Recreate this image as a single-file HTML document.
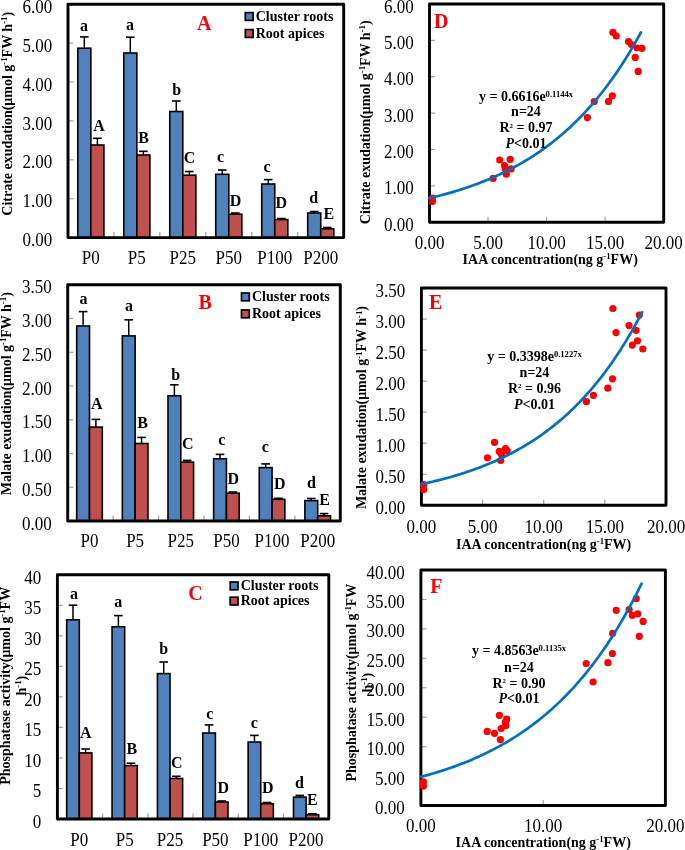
<!DOCTYPE html><html><head><meta charset="utf-8"><style>html,body{margin:0;padding:0;background:#fff;overflow:hidden;width:685px;height:850px;}svg{display:block;font-family:"Liberation Serif",serif;filter:blur(0.45px);}</style></head><body>
<svg width="685" height="850" viewBox="0 0 685 850">
<rect width="685" height="850" fill="#fff"/>
<line x1="68.00" y1="198.70" x2="73.50" y2="198.70" stroke="#A0A0A0" stroke-width="1.2"/>
<line x1="68.00" y1="159.80" x2="73.50" y2="159.80" stroke="#A0A0A0" stroke-width="1.2"/>
<line x1="68.00" y1="120.90" x2="73.50" y2="120.90" stroke="#A0A0A0" stroke-width="1.2"/>
<line x1="68.00" y1="82.00" x2="73.50" y2="82.00" stroke="#A0A0A0" stroke-width="1.2"/>
<line x1="68.00" y1="43.10" x2="73.50" y2="43.10" stroke="#A0A0A0" stroke-width="1.2"/>
<line x1="113.95" y1="237.60" x2="113.95" y2="232.10" stroke="#A0A0A0" stroke-width="1.2"/>
<line x1="159.90" y1="237.60" x2="159.90" y2="232.10" stroke="#A0A0A0" stroke-width="1.2"/>
<line x1="205.85" y1="237.60" x2="205.85" y2="232.10" stroke="#A0A0A0" stroke-width="1.2"/>
<line x1="251.80" y1="237.60" x2="251.80" y2="232.10" stroke="#A0A0A0" stroke-width="1.2"/>
<line x1="297.75" y1="237.60" x2="297.75" y2="232.10" stroke="#A0A0A0" stroke-width="1.2"/>
<text transform="translate(52.30,246.20) scale(1,1.08)" font-size="17" text-anchor="end" fill="#000">0.00</text>
<text transform="translate(52.30,207.30) scale(1,1.08)" font-size="17" text-anchor="end" fill="#000">1.00</text>
<text transform="translate(52.30,168.40) scale(1,1.08)" font-size="17" text-anchor="end" fill="#000">2.00</text>
<text transform="translate(52.30,129.50) scale(1,1.08)" font-size="17" text-anchor="end" fill="#000">3.00</text>
<text transform="translate(52.30,90.60) scale(1,1.08)" font-size="17" text-anchor="end" fill="#000">4.00</text>
<text transform="translate(52.30,51.70) scale(1,1.08)" font-size="17" text-anchor="end" fill="#000">5.00</text>
<text transform="translate(52.30,12.80) scale(1,1.08)" font-size="17" text-anchor="end" fill="#000">6.00</text>
<rect x="77.80" y="48.20" width="13.05" height="189.40" fill="#4F81BD" stroke="#000" stroke-width="1.6"/>
<rect x="90.85" y="145.00" width="13.05" height="92.60" fill="#C0504D" stroke="#000" stroke-width="1.6"/>
<line x1="84.32" y1="48.20" x2="84.32" y2="36.90" stroke="#000" stroke-width="1.5"/>
<line x1="80.02" y1="36.90" x2="88.62" y2="36.90" stroke="#000" stroke-width="1.6"/>
<line x1="97.38" y1="145.00" x2="97.38" y2="138.30" stroke="#000" stroke-width="1.5"/>
<line x1="93.08" y1="138.30" x2="101.67" y2="138.30" stroke="#000" stroke-width="1.6"/>
<text transform="translate(90.85,263.50) scale(1,1.08)" font-size="17" text-anchor="middle" fill="#000">P0</text>
<rect x="123.78" y="53.00" width="13.05" height="184.60" fill="#4F81BD" stroke="#000" stroke-width="1.6"/>
<rect x="136.83" y="155.00" width="13.05" height="82.60" fill="#C0504D" stroke="#000" stroke-width="1.6"/>
<line x1="130.30" y1="53.00" x2="130.30" y2="37.20" stroke="#000" stroke-width="1.5"/>
<line x1="126.00" y1="37.20" x2="134.60" y2="37.20" stroke="#000" stroke-width="1.6"/>
<line x1="143.35" y1="155.00" x2="143.35" y2="151.30" stroke="#000" stroke-width="1.5"/>
<line x1="139.05" y1="151.30" x2="147.66" y2="151.30" stroke="#000" stroke-width="1.6"/>
<text transform="translate(136.83,263.50) scale(1,1.08)" font-size="17" text-anchor="middle" fill="#000">P5</text>
<rect x="169.76" y="111.50" width="13.05" height="126.10" fill="#4F81BD" stroke="#000" stroke-width="1.6"/>
<rect x="182.81" y="175.20" width="13.05" height="62.40" fill="#C0504D" stroke="#000" stroke-width="1.6"/>
<line x1="176.28" y1="111.50" x2="176.28" y2="101.00" stroke="#000" stroke-width="1.5"/>
<line x1="171.98" y1="101.00" x2="180.59" y2="101.00" stroke="#000" stroke-width="1.6"/>
<line x1="189.34" y1="175.20" x2="189.34" y2="171.50" stroke="#000" stroke-width="1.5"/>
<line x1="185.03" y1="171.50" x2="193.64" y2="171.50" stroke="#000" stroke-width="1.6"/>
<text transform="translate(182.81,263.50) scale(1,1.08)" font-size="17" text-anchor="middle" fill="#000">P25</text>
<rect x="215.74" y="174.30" width="13.05" height="63.30" fill="#4F81BD" stroke="#000" stroke-width="1.6"/>
<rect x="228.79" y="214.20" width="13.05" height="23.40" fill="#C0504D" stroke="#000" stroke-width="1.6"/>
<line x1="222.26" y1="174.30" x2="222.26" y2="170.00" stroke="#000" stroke-width="1.5"/>
<line x1="217.96" y1="170.00" x2="226.56" y2="170.00" stroke="#000" stroke-width="1.6"/>
<line x1="235.31" y1="214.20" x2="235.31" y2="213.00" stroke="#000" stroke-width="1.5"/>
<line x1="231.01" y1="213.00" x2="239.62" y2="213.00" stroke="#000" stroke-width="1.6"/>
<text transform="translate(228.79,263.50) scale(1,1.08)" font-size="17" text-anchor="middle" fill="#000">P50</text>
<rect x="261.72" y="184.00" width="13.05" height="53.60" fill="#4F81BD" stroke="#000" stroke-width="1.6"/>
<rect x="274.77" y="219.60" width="13.05" height="18.00" fill="#C0504D" stroke="#000" stroke-width="1.6"/>
<line x1="268.25" y1="184.00" x2="268.25" y2="179.60" stroke="#000" stroke-width="1.5"/>
<line x1="263.94" y1="179.60" x2="272.55" y2="179.60" stroke="#000" stroke-width="1.6"/>
<line x1="281.29" y1="219.60" x2="281.29" y2="218.50" stroke="#000" stroke-width="1.5"/>
<line x1="276.99" y1="218.50" x2="285.59" y2="218.50" stroke="#000" stroke-width="1.6"/>
<text transform="translate(274.77,263.50) scale(1,1.08)" font-size="17" text-anchor="middle" fill="#000">P100</text>
<rect x="307.70" y="213.00" width="13.05" height="24.60" fill="#4F81BD" stroke="#000" stroke-width="1.6"/>
<rect x="320.75" y="228.80" width="13.05" height="8.80" fill="#C0504D" stroke="#000" stroke-width="1.6"/>
<line x1="314.23" y1="213.00" x2="314.23" y2="211.50" stroke="#000" stroke-width="1.5"/>
<line x1="309.93" y1="211.50" x2="318.53" y2="211.50" stroke="#000" stroke-width="1.6"/>
<line x1="327.27" y1="228.80" x2="327.27" y2="227.50" stroke="#000" stroke-width="1.5"/>
<line x1="322.97" y1="227.50" x2="331.57" y2="227.50" stroke="#000" stroke-width="1.6"/>
<text transform="translate(320.75,263.50) scale(1,1.08)" font-size="17" text-anchor="middle" fill="#000">P200</text>
<path d="M68.00,237.60 L68.00,4.20 L343.70,4.20 L343.70,237.60 Z" fill="none" stroke="#000" stroke-width="2.9" stroke-linejoin="round"/>
<rect x="245.30" y="12.60" width="7.8" height="7.8" fill="#4F81BD" stroke="#000" stroke-width="1.7"/>
<rect x="245.30" y="29.60" width="7.8" height="7.8" fill="#C0504D" stroke="#000" stroke-width="1.7"/>
<text x="255.70" y="20.50" font-size="14" text-anchor="start" font-weight="bold" fill="#000">Cluster roots</text>
<text x="255.70" y="37.50" font-size="14" text-anchor="start" font-weight="bold" fill="#000">Root apices</text>
<text x="197.00" y="29.60" font-size="20" text-anchor="start" font-weight="bold" fill="#FF0000">A</text>
<line x1="67.70" y1="487.26" x2="73.20" y2="487.26" stroke="#A0A0A0" stroke-width="1.2"/>
<line x1="67.70" y1="453.51" x2="73.20" y2="453.51" stroke="#A0A0A0" stroke-width="1.2"/>
<line x1="67.70" y1="419.77" x2="73.20" y2="419.77" stroke="#A0A0A0" stroke-width="1.2"/>
<line x1="67.70" y1="386.03" x2="73.20" y2="386.03" stroke="#A0A0A0" stroke-width="1.2"/>
<line x1="67.70" y1="352.29" x2="73.20" y2="352.29" stroke="#A0A0A0" stroke-width="1.2"/>
<line x1="67.70" y1="318.54" x2="73.20" y2="318.54" stroke="#A0A0A0" stroke-width="1.2"/>
<line x1="113.13" y1="521.00" x2="113.13" y2="515.50" stroke="#A0A0A0" stroke-width="1.2"/>
<line x1="158.57" y1="521.00" x2="158.57" y2="515.50" stroke="#A0A0A0" stroke-width="1.2"/>
<line x1="204.00" y1="521.00" x2="204.00" y2="515.50" stroke="#A0A0A0" stroke-width="1.2"/>
<line x1="249.43" y1="521.00" x2="249.43" y2="515.50" stroke="#A0A0A0" stroke-width="1.2"/>
<line x1="294.87" y1="521.00" x2="294.87" y2="515.50" stroke="#A0A0A0" stroke-width="1.2"/>
<text transform="translate(51.80,529.60) scale(1,1.08)" font-size="17" text-anchor="end" fill="#000">0.00</text>
<text transform="translate(51.80,495.86) scale(1,1.08)" font-size="17" text-anchor="end" fill="#000">0.50</text>
<text transform="translate(51.80,462.11) scale(1,1.08)" font-size="17" text-anchor="end" fill="#000">1.00</text>
<text transform="translate(51.80,428.37) scale(1,1.08)" font-size="17" text-anchor="end" fill="#000">1.50</text>
<text transform="translate(51.80,394.63) scale(1,1.08)" font-size="17" text-anchor="end" fill="#000">2.00</text>
<text transform="translate(51.80,360.89) scale(1,1.08)" font-size="17" text-anchor="end" fill="#000">2.50</text>
<text transform="translate(51.80,327.14) scale(1,1.08)" font-size="17" text-anchor="end" fill="#000">3.00</text>
<text transform="translate(51.80,293.40) scale(1,1.08)" font-size="17" text-anchor="end" fill="#000">3.50</text>
<rect x="76.70" y="326.00" width="12.80" height="195.00" fill="#4F81BD" stroke="#000" stroke-width="1.6"/>
<rect x="89.50" y="427.10" width="12.80" height="93.90" fill="#C0504D" stroke="#000" stroke-width="1.6"/>
<line x1="83.10" y1="326.00" x2="83.10" y2="311.60" stroke="#000" stroke-width="1.5"/>
<line x1="78.80" y1="311.60" x2="87.40" y2="311.60" stroke="#000" stroke-width="1.6"/>
<line x1="95.90" y1="427.10" x2="95.90" y2="419.40" stroke="#000" stroke-width="1.5"/>
<line x1="91.60" y1="419.40" x2="100.20" y2="419.40" stroke="#000" stroke-width="1.6"/>
<text transform="translate(89.50,547.30) scale(1,1.08)" font-size="17" text-anchor="middle" fill="#000">P0</text>
<rect x="122.34" y="335.90" width="12.80" height="185.10" fill="#4F81BD" stroke="#000" stroke-width="1.6"/>
<rect x="135.14" y="443.50" width="12.80" height="77.50" fill="#C0504D" stroke="#000" stroke-width="1.6"/>
<line x1="128.74" y1="335.90" x2="128.74" y2="319.80" stroke="#000" stroke-width="1.5"/>
<line x1="124.44" y1="319.80" x2="133.04" y2="319.80" stroke="#000" stroke-width="1.6"/>
<line x1="141.54" y1="443.50" x2="141.54" y2="437.40" stroke="#000" stroke-width="1.5"/>
<line x1="137.24" y1="437.40" x2="145.84" y2="437.40" stroke="#000" stroke-width="1.6"/>
<text transform="translate(135.14,547.30) scale(1,1.08)" font-size="17" text-anchor="middle" fill="#000">P5</text>
<rect x="167.98" y="395.80" width="12.80" height="125.20" fill="#4F81BD" stroke="#000" stroke-width="1.6"/>
<rect x="180.78" y="462.10" width="12.80" height="58.90" fill="#C0504D" stroke="#000" stroke-width="1.6"/>
<line x1="174.38" y1="395.80" x2="174.38" y2="384.80" stroke="#000" stroke-width="1.5"/>
<line x1="170.08" y1="384.80" x2="178.68" y2="384.80" stroke="#000" stroke-width="1.6"/>
<line x1="187.18" y1="462.10" x2="187.18" y2="460.40" stroke="#000" stroke-width="1.5"/>
<line x1="182.88" y1="460.40" x2="191.48" y2="460.40" stroke="#000" stroke-width="1.6"/>
<text transform="translate(180.78,547.30) scale(1,1.08)" font-size="17" text-anchor="middle" fill="#000">P25</text>
<rect x="213.62" y="458.80" width="12.80" height="62.20" fill="#4F81BD" stroke="#000" stroke-width="1.6"/>
<rect x="226.42" y="493.20" width="12.80" height="27.80" fill="#C0504D" stroke="#000" stroke-width="1.6"/>
<line x1="220.02" y1="458.80" x2="220.02" y2="454.40" stroke="#000" stroke-width="1.5"/>
<line x1="215.72" y1="454.40" x2="224.32" y2="454.40" stroke="#000" stroke-width="1.6"/>
<line x1="232.82" y1="493.20" x2="232.82" y2="492.00" stroke="#000" stroke-width="1.5"/>
<line x1="228.52" y1="492.00" x2="237.12" y2="492.00" stroke="#000" stroke-width="1.6"/>
<text transform="translate(226.42,547.30) scale(1,1.08)" font-size="17" text-anchor="middle" fill="#000">P50</text>
<rect x="259.26" y="467.60" width="12.80" height="53.40" fill="#4F81BD" stroke="#000" stroke-width="1.6"/>
<rect x="272.06" y="499.30" width="12.80" height="21.70" fill="#C0504D" stroke="#000" stroke-width="1.6"/>
<line x1="265.66" y1="467.60" x2="265.66" y2="463.90" stroke="#000" stroke-width="1.5"/>
<line x1="261.36" y1="463.90" x2="269.96" y2="463.90" stroke="#000" stroke-width="1.6"/>
<line x1="278.46" y1="499.30" x2="278.46" y2="498.30" stroke="#000" stroke-width="1.5"/>
<line x1="274.16" y1="498.30" x2="282.76" y2="498.30" stroke="#000" stroke-width="1.6"/>
<text transform="translate(272.06,547.30) scale(1,1.08)" font-size="17" text-anchor="middle" fill="#000">P100</text>
<rect x="304.90" y="500.60" width="12.80" height="20.40" fill="#4F81BD" stroke="#000" stroke-width="1.6"/>
<rect x="317.70" y="515.80" width="12.80" height="5.20" fill="#C0504D" stroke="#000" stroke-width="1.6"/>
<line x1="311.30" y1="500.60" x2="311.30" y2="498.50" stroke="#000" stroke-width="1.5"/>
<line x1="307.00" y1="498.50" x2="315.60" y2="498.50" stroke="#000" stroke-width="1.6"/>
<line x1="324.10" y1="515.80" x2="324.10" y2="513.60" stroke="#000" stroke-width="1.5"/>
<line x1="319.80" y1="513.60" x2="328.40" y2="513.60" stroke="#000" stroke-width="1.6"/>
<text transform="translate(317.70,547.30) scale(1,1.08)" font-size="17" text-anchor="middle" fill="#000">P200</text>
<path d="M67.70,521.00 L67.70,284.80 L340.30,284.80 L340.30,521.00 Z" fill="none" stroke="#000" stroke-width="2.9" stroke-linejoin="round"/>
<rect x="241.50" y="293.00" width="7.8" height="7.8" fill="#4F81BD" stroke="#000" stroke-width="1.7"/>
<rect x="241.50" y="310.00" width="7.8" height="7.8" fill="#C0504D" stroke="#000" stroke-width="1.7"/>
<text x="252.00" y="301.00" font-size="14" text-anchor="start" font-weight="bold" fill="#000">Cluster roots</text>
<text x="252.00" y="318.00" font-size="14" text-anchor="start" font-weight="bold" fill="#000">Root apices</text>
<text x="198.60" y="309.40" font-size="20" text-anchor="start" font-weight="bold" fill="#FF0000">B</text>
<line x1="57.40" y1="788.48" x2="62.90" y2="788.48" stroke="#A0A0A0" stroke-width="1.2"/>
<line x1="57.40" y1="757.95" x2="62.90" y2="757.95" stroke="#A0A0A0" stroke-width="1.2"/>
<line x1="57.40" y1="727.42" x2="62.90" y2="727.42" stroke="#A0A0A0" stroke-width="1.2"/>
<line x1="57.40" y1="696.90" x2="62.90" y2="696.90" stroke="#A0A0A0" stroke-width="1.2"/>
<line x1="57.40" y1="666.38" x2="62.90" y2="666.38" stroke="#A0A0A0" stroke-width="1.2"/>
<line x1="57.40" y1="635.85" x2="62.90" y2="635.85" stroke="#A0A0A0" stroke-width="1.2"/>
<line x1="57.40" y1="605.32" x2="62.90" y2="605.32" stroke="#A0A0A0" stroke-width="1.2"/>
<line x1="102.63" y1="819.00" x2="102.63" y2="813.50" stroke="#A0A0A0" stroke-width="1.2"/>
<line x1="147.87" y1="819.00" x2="147.87" y2="813.50" stroke="#A0A0A0" stroke-width="1.2"/>
<line x1="193.10" y1="819.00" x2="193.10" y2="813.50" stroke="#A0A0A0" stroke-width="1.2"/>
<line x1="238.33" y1="819.00" x2="238.33" y2="813.50" stroke="#A0A0A0" stroke-width="1.2"/>
<line x1="283.57" y1="819.00" x2="283.57" y2="813.50" stroke="#A0A0A0" stroke-width="1.2"/>
<text transform="translate(41.20,828.00) scale(1,1.08)" font-size="17" text-anchor="end" fill="#000">0</text>
<text transform="translate(41.20,797.48) scale(1,1.08)" font-size="17" text-anchor="end" fill="#000">5</text>
<text transform="translate(41.20,766.95) scale(1,1.08)" font-size="17" text-anchor="end" fill="#000">10</text>
<text transform="translate(41.20,736.42) scale(1,1.08)" font-size="17" text-anchor="end" fill="#000">15</text>
<text transform="translate(41.20,705.90) scale(1,1.08)" font-size="17" text-anchor="end" fill="#000">20</text>
<text transform="translate(41.20,675.38) scale(1,1.08)" font-size="17" text-anchor="end" fill="#000">25</text>
<text transform="translate(41.20,644.85) scale(1,1.08)" font-size="17" text-anchor="end" fill="#000">30</text>
<text transform="translate(41.20,614.32) scale(1,1.08)" font-size="17" text-anchor="end" fill="#000">35</text>
<text transform="translate(41.20,583.80) scale(1,1.08)" font-size="17" text-anchor="end" fill="#000">40</text>
<rect x="66.70" y="619.80" width="12.60" height="199.20" fill="#4F81BD" stroke="#000" stroke-width="1.6"/>
<rect x="79.30" y="752.90" width="12.60" height="66.10" fill="#C0504D" stroke="#000" stroke-width="1.6"/>
<line x1="73.00" y1="619.80" x2="73.00" y2="605.20" stroke="#000" stroke-width="1.5"/>
<line x1="68.70" y1="605.20" x2="77.30" y2="605.20" stroke="#000" stroke-width="1.6"/>
<line x1="85.60" y1="752.90" x2="85.60" y2="749.00" stroke="#000" stroke-width="1.5"/>
<line x1="81.30" y1="749.00" x2="89.90" y2="749.00" stroke="#000" stroke-width="1.6"/>
<text transform="translate(79.30,845.50) scale(1,1.08)" font-size="17" text-anchor="middle" fill="#000">P0</text>
<rect x="112.06" y="626.80" width="12.60" height="192.20" fill="#4F81BD" stroke="#000" stroke-width="1.6"/>
<rect x="124.66" y="765.60" width="12.60" height="53.40" fill="#C0504D" stroke="#000" stroke-width="1.6"/>
<line x1="118.36" y1="626.80" x2="118.36" y2="615.60" stroke="#000" stroke-width="1.5"/>
<line x1="114.06" y1="615.60" x2="122.66" y2="615.60" stroke="#000" stroke-width="1.6"/>
<line x1="130.96" y1="765.60" x2="130.96" y2="763.20" stroke="#000" stroke-width="1.5"/>
<line x1="126.66" y1="763.20" x2="135.26" y2="763.20" stroke="#000" stroke-width="1.6"/>
<text transform="translate(124.66,845.50) scale(1,1.08)" font-size="17" text-anchor="middle" fill="#000">P5</text>
<rect x="157.42" y="673.60" width="12.60" height="145.40" fill="#4F81BD" stroke="#000" stroke-width="1.6"/>
<rect x="170.02" y="778.50" width="12.60" height="40.50" fill="#C0504D" stroke="#000" stroke-width="1.6"/>
<line x1="163.72" y1="673.60" x2="163.72" y2="662.00" stroke="#000" stroke-width="1.5"/>
<line x1="159.42" y1="662.00" x2="168.02" y2="662.00" stroke="#000" stroke-width="1.6"/>
<line x1="176.32" y1="778.50" x2="176.32" y2="776.30" stroke="#000" stroke-width="1.5"/>
<line x1="172.02" y1="776.30" x2="180.62" y2="776.30" stroke="#000" stroke-width="1.6"/>
<text transform="translate(170.02,845.50) scale(1,1.08)" font-size="17" text-anchor="middle" fill="#000">P25</text>
<rect x="202.78" y="733.00" width="12.60" height="86.00" fill="#4F81BD" stroke="#000" stroke-width="1.6"/>
<rect x="215.38" y="802.00" width="12.60" height="17.00" fill="#C0504D" stroke="#000" stroke-width="1.6"/>
<line x1="209.08" y1="733.00" x2="209.08" y2="724.90" stroke="#000" stroke-width="1.5"/>
<line x1="204.78" y1="724.90" x2="213.38" y2="724.90" stroke="#000" stroke-width="1.6"/>
<line x1="221.68" y1="802.00" x2="221.68" y2="801.00" stroke="#000" stroke-width="1.5"/>
<line x1="217.38" y1="801.00" x2="225.98" y2="801.00" stroke="#000" stroke-width="1.6"/>
<text transform="translate(215.38,845.50) scale(1,1.08)" font-size="17" text-anchor="middle" fill="#000">P50</text>
<rect x="248.14" y="742.00" width="12.60" height="77.00" fill="#4F81BD" stroke="#000" stroke-width="1.6"/>
<rect x="260.74" y="803.70" width="12.60" height="15.30" fill="#C0504D" stroke="#000" stroke-width="1.6"/>
<line x1="254.44" y1="742.00" x2="254.44" y2="735.40" stroke="#000" stroke-width="1.5"/>
<line x1="250.14" y1="735.40" x2="258.74" y2="735.40" stroke="#000" stroke-width="1.6"/>
<line x1="267.04" y1="803.70" x2="267.04" y2="802.50" stroke="#000" stroke-width="1.5"/>
<line x1="262.74" y1="802.50" x2="271.34" y2="802.50" stroke="#000" stroke-width="1.6"/>
<text transform="translate(260.74,845.50) scale(1,1.08)" font-size="17" text-anchor="middle" fill="#000">P100</text>
<rect x="293.50" y="797.10" width="12.60" height="21.90" fill="#4F81BD" stroke="#000" stroke-width="1.6"/>
<rect x="306.10" y="814.70" width="12.60" height="4.30" fill="#C0504D" stroke="#000" stroke-width="1.6"/>
<line x1="299.80" y1="797.10" x2="299.80" y2="795.40" stroke="#000" stroke-width="1.5"/>
<line x1="295.50" y1="795.40" x2="304.10" y2="795.40" stroke="#000" stroke-width="1.6"/>
<line x1="312.40" y1="814.70" x2="312.40" y2="813.80" stroke="#000" stroke-width="1.5"/>
<line x1="308.10" y1="813.80" x2="316.70" y2="813.80" stroke="#000" stroke-width="1.6"/>
<text transform="translate(306.10,845.50) scale(1,1.08)" font-size="17" text-anchor="middle" fill="#000">P200</text>
<path d="M57.40,819.00 L57.40,574.80 L328.80,574.80 L328.80,819.00 Z" fill="none" stroke="#000" stroke-width="2.9" stroke-linejoin="round"/>
<rect x="230.20" y="582.00" width="7.8" height="7.8" fill="#4F81BD" stroke="#000" stroke-width="1.7"/>
<rect x="230.20" y="597.20" width="7.8" height="7.8" fill="#C0504D" stroke="#000" stroke-width="1.7"/>
<text x="240.70" y="590.20" font-size="14" text-anchor="start" font-weight="bold" fill="#000">Cluster roots</text>
<text x="240.70" y="605.40" font-size="14" text-anchor="start" font-weight="bold" fill="#000">Root apices</text>
<text x="188.20" y="600.40" font-size="20" text-anchor="start" font-weight="bold" fill="#FF0000">C</text>
<text x="84.10" y="30.90" font-size="16" text-anchor="middle" font-weight="bold" fill="#000">a</text>
<text x="99.10" y="130.50" font-size="16" text-anchor="middle" font-weight="bold" fill="#000">A</text>
<text x="130.10" y="29.90" font-size="16" text-anchor="middle" font-weight="bold" fill="#000">a</text>
<text x="143.70" y="142.50" font-size="16" text-anchor="middle" font-weight="bold" fill="#000">B</text>
<text x="176.70" y="94.90" font-size="16" text-anchor="middle" font-weight="bold" fill="#000">b</text>
<text x="189.60" y="162.50" font-size="16" text-anchor="middle" font-weight="bold" fill="#000">C</text>
<text x="220.60" y="162.10" font-size="16" text-anchor="middle" font-weight="bold" fill="#000">c</text>
<text x="235.60" y="205.90" font-size="16" text-anchor="middle" font-weight="bold" fill="#000">D</text>
<text x="267.00" y="171.50" font-size="16" text-anchor="middle" font-weight="bold" fill="#000">c</text>
<text x="281.40" y="207.90" font-size="16" text-anchor="middle" font-weight="bold" fill="#000">D</text>
<text x="313.60" y="202.70" font-size="16" text-anchor="middle" font-weight="bold" fill="#000">d</text>
<text x="328.90" y="219.30" font-size="16" text-anchor="middle" font-weight="bold" fill="#000">E</text>
<text x="83.40" y="304.10" font-size="16" text-anchor="middle" font-weight="bold" fill="#000">a</text>
<text x="96.90" y="408.90" font-size="16" text-anchor="middle" font-weight="bold" fill="#000">A</text>
<text x="128.90" y="311.10" font-size="16" text-anchor="middle" font-weight="bold" fill="#000">a</text>
<text x="142.70" y="427.50" font-size="16" text-anchor="middle" font-weight="bold" fill="#000">B</text>
<text x="175.80" y="379.50" font-size="16" text-anchor="middle" font-weight="bold" fill="#000">b</text>
<text x="187.80" y="449.10" font-size="16" text-anchor="middle" font-weight="bold" fill="#000">C</text>
<text x="221.70" y="444.90" font-size="16" text-anchor="middle" font-weight="bold" fill="#000">c</text>
<text x="233.30" y="484.10" font-size="16" text-anchor="middle" font-weight="bold" fill="#000">D</text>
<text x="265.20" y="452.30" font-size="16" text-anchor="middle" font-weight="bold" fill="#000">c</text>
<text x="279.90" y="488.50" font-size="16" text-anchor="middle" font-weight="bold" fill="#000">D</text>
<text x="311.50" y="487.90" font-size="16" text-anchor="middle" font-weight="bold" fill="#000">d</text>
<text x="324.70" y="505.10" font-size="16" text-anchor="middle" font-weight="bold" fill="#000">E</text>
<text x="73.90" y="599.30" font-size="16" text-anchor="middle" font-weight="bold" fill="#000">a</text>
<text x="85.90" y="737.70" font-size="16" text-anchor="middle" font-weight="bold" fill="#000">A</text>
<text x="118.30" y="606.50" font-size="16" text-anchor="middle" font-weight="bold" fill="#000">a</text>
<text x="131.90" y="754.10" font-size="16" text-anchor="middle" font-weight="bold" fill="#000">B</text>
<text x="163.80" y="653.70" font-size="16" text-anchor="middle" font-weight="bold" fill="#000">b</text>
<text x="176.80" y="767.70" font-size="16" text-anchor="middle" font-weight="bold" fill="#000">C</text>
<text x="209.80" y="718.90" font-size="16" text-anchor="middle" font-weight="bold" fill="#000">c</text>
<text x="223.40" y="792.50" font-size="16" text-anchor="middle" font-weight="bold" fill="#000">D</text>
<text x="254.20" y="728.30" font-size="16" text-anchor="middle" font-weight="bold" fill="#000">c</text>
<text x="267.90" y="793.10" font-size="16" text-anchor="middle" font-weight="bold" fill="#000">D</text>
<text x="299.50" y="787.50" font-size="16" text-anchor="middle" font-weight="bold" fill="#000">d</text>
<text x="312.30" y="805.30" font-size="16" text-anchor="middle" font-weight="bold" fill="#000">E</text>
<line x1="429.50" y1="185.83" x2="435.00" y2="185.83" stroke="#A0A0A0" stroke-width="1.2"/>
<line x1="429.50" y1="149.47" x2="435.00" y2="149.47" stroke="#A0A0A0" stroke-width="1.2"/>
<line x1="429.50" y1="113.10" x2="435.00" y2="113.10" stroke="#A0A0A0" stroke-width="1.2"/>
<line x1="429.50" y1="76.73" x2="435.00" y2="76.73" stroke="#A0A0A0" stroke-width="1.2"/>
<line x1="429.50" y1="40.37" x2="435.00" y2="40.37" stroke="#A0A0A0" stroke-width="1.2"/>
<line x1="488.05" y1="222.20" x2="488.05" y2="216.70" stroke="#A0A0A0" stroke-width="1.2"/>
<line x1="546.60" y1="222.20" x2="546.60" y2="216.70" stroke="#A0A0A0" stroke-width="1.2"/>
<line x1="605.15" y1="222.20" x2="605.15" y2="216.70" stroke="#A0A0A0" stroke-width="1.2"/>
<text transform="translate(413.80,230.80) scale(1,1.08)" font-size="17" text-anchor="end" fill="#000">0.00</text>
<text transform="translate(413.80,194.43) scale(1,1.08)" font-size="17" text-anchor="end" fill="#000">1.00</text>
<text transform="translate(413.80,158.07) scale(1,1.08)" font-size="17" text-anchor="end" fill="#000">2.00</text>
<text transform="translate(413.80,121.70) scale(1,1.08)" font-size="17" text-anchor="end" fill="#000">3.00</text>
<text transform="translate(413.80,85.33) scale(1,1.08)" font-size="17" text-anchor="end" fill="#000">4.00</text>
<text transform="translate(413.80,48.97) scale(1,1.08)" font-size="17" text-anchor="end" fill="#000">5.00</text>
<text transform="translate(413.80,12.60) scale(1,1.08)" font-size="17" text-anchor="end" fill="#000">6.00</text>
<text transform="translate(429.50,248.80) scale(1,1.08)" font-size="17" text-anchor="middle" fill="#000">0.00</text>
<text transform="translate(488.05,248.80) scale(1,1.08)" font-size="17" text-anchor="middle" fill="#000">5.00</text>
<text transform="translate(546.60,248.80) scale(1,1.08)" font-size="17" text-anchor="middle" fill="#000">10.00</text>
<text transform="translate(605.15,248.80) scale(1,1.08)" font-size="17" text-anchor="middle" fill="#000">15.00</text>
<text transform="translate(663.70,248.80) scale(1,1.08)" font-size="17" text-anchor="middle" fill="#000">20.00</text>
<path d="M429.50,222.20 L429.50,4.00 L663.70,4.00 L663.70,222.20 Z" fill="none" stroke="#000" stroke-width="2.9" stroke-linejoin="round"/>
<circle cx="432.40" cy="198.20" r="3.6" fill="#FF0000"/>
<circle cx="432.40" cy="201.50" r="3.6" fill="#FF0000"/>
<circle cx="493.10" cy="178.40" r="3.6" fill="#FF0000"/>
<circle cx="499.70" cy="160.00" r="3.6" fill="#FF0000"/>
<circle cx="510.20" cy="159.40" r="3.6" fill="#FF0000"/>
<circle cx="504.50" cy="165.60" r="3.6" fill="#FF0000"/>
<circle cx="511.10" cy="168.90" r="3.6" fill="#FF0000"/>
<circle cx="506.30" cy="174.20" r="3.6" fill="#FF0000"/>
<circle cx="505.40" cy="168.90" r="3.6" fill="#FF0000"/>
<circle cx="587.40" cy="117.60" r="3.6" fill="#FF0000"/>
<circle cx="594.20" cy="101.60" r="3.6" fill="#FF0000"/>
<circle cx="608.50" cy="101.40" r="3.6" fill="#FF0000"/>
<circle cx="612.30" cy="95.80" r="3.6" fill="#FF0000"/>
<circle cx="612.90" cy="32.30" r="3.6" fill="#FF0000"/>
<circle cx="616.20" cy="36.00" r="3.6" fill="#FF0000"/>
<circle cx="628.50" cy="41.60" r="3.6" fill="#FF0000"/>
<circle cx="631.40" cy="44.50" r="3.6" fill="#FF0000"/>
<circle cx="637.00" cy="48.00" r="3.6" fill="#FF0000"/>
<circle cx="641.90" cy="48.30" r="3.6" fill="#FF0000"/>
<circle cx="635.20" cy="57.40" r="3.6" fill="#FF0000"/>
<circle cx="638.20" cy="71.40" r="3.6" fill="#FF0000"/>
<polyline points="429.50,198.14 431.26,197.72 433.02,197.30 434.78,196.87 436.55,196.43 438.31,195.98 440.07,195.52 441.83,195.06 443.59,194.59 445.35,194.11 447.11,193.62 448.88,193.13 450.64,192.62 452.40,192.11 454.16,191.59 455.92,191.05 457.68,190.51 459.44,189.96 461.20,189.40 462.97,188.84 464.73,188.26 466.49,187.67 468.25,187.07 470.01,186.46 471.77,185.84 473.53,185.21 475.30,184.56 477.06,183.91 478.82,183.25 480.58,182.57 482.34,181.88 484.10,181.18 485.86,180.47 487.63,179.75 489.39,179.01 491.15,178.26 492.91,177.50 494.67,176.72 496.43,175.93 498.19,175.13 499.96,174.31 501.72,173.48 503.48,172.64 505.24,171.77 507.00,170.90 508.76,170.01 510.52,169.10 512.28,168.18 514.05,167.24 515.81,166.29 517.57,165.32 519.33,164.33 521.09,163.33 522.85,162.31 524.61,161.27 526.38,160.21 528.14,159.13 529.90,158.04 531.66,156.93 533.42,155.79 535.18,154.64 536.94,153.47 538.71,152.27 540.47,151.06 542.23,149.83 543.99,148.57 545.75,147.29 547.51,145.99 549.27,144.67 551.04,143.32 552.80,141.95 554.56,140.56 556.32,139.14 558.08,137.70 559.84,136.24 561.60,134.74 563.36,133.23 565.13,131.68 566.89,130.11 568.65,128.51 570.41,126.89 572.17,125.23 573.93,123.55 575.69,121.84 577.46,120.09 579.22,118.32 580.98,116.52 582.74,114.69 584.50,112.82 586.26,110.92 588.02,108.99 589.79,107.02 591.55,105.03 593.31,102.99 595.07,100.92 596.83,98.82 598.59,96.68 600.35,94.50 602.12,92.28 603.88,90.03 605.64,87.73 607.40,85.40 609.16,83.02 610.92,80.61 612.68,78.15 614.44,75.65 616.21,73.11 617.97,70.52 619.73,67.89 621.49,65.21 623.25,62.48 625.01,59.71 626.77,56.89 628.54,54.02 630.30,51.10 632.06,48.13 633.82,45.11 635.58,42.04 637.34,38.91 639.10,35.73 640.87,32.49" fill="none" stroke="#0070C0" stroke-width="2.7" stroke-linecap="round" stroke-linejoin="round"/>
<text x="526.00" y="101.00" font-size="14" font-weight="bold" text-anchor="middle">y = 0.6616e<tspan font-size="8.6" dy="-4.4">0.1144x</tspan></text>
<text x="526.00" y="116.20" font-size="14" text-anchor="middle" font-weight="bold" fill="#000">n=24</text>
<text x="526.00" y="132.30" font-size="14" font-weight="bold" text-anchor="middle">R<tspan font-size="6.8" dy="-4.6">2</tspan><tspan dy="4.6"> = 0.97</tspan></text>
<text x="526.00" y="148.40" font-size="14" font-weight="bold" text-anchor="middle"><tspan font-style="italic">P</tspan>&lt;0.01</text>
<text x="434.00" y="27.80" font-size="20" text-anchor="start" font-weight="bold" fill="#FF0000">D</text>
<text x="550.20" y="264.30" font-size="14" font-weight="bold" text-anchor="middle">IAA concentration(ng g<tspan font-size="8.68" dy="-5">-1</tspan><tspan dy="5">FW)</tspan></text>
<line x1="421.40" y1="474.26" x2="426.90" y2="474.26" stroke="#A0A0A0" stroke-width="1.2"/>
<line x1="421.40" y1="443.21" x2="426.90" y2="443.21" stroke="#A0A0A0" stroke-width="1.2"/>
<line x1="421.40" y1="412.17" x2="426.90" y2="412.17" stroke="#A0A0A0" stroke-width="1.2"/>
<line x1="421.40" y1="381.13" x2="426.90" y2="381.13" stroke="#A0A0A0" stroke-width="1.2"/>
<line x1="421.40" y1="350.09" x2="426.90" y2="350.09" stroke="#A0A0A0" stroke-width="1.2"/>
<line x1="421.40" y1="319.04" x2="426.90" y2="319.04" stroke="#A0A0A0" stroke-width="1.2"/>
<line x1="482.55" y1="505.30" x2="482.55" y2="499.80" stroke="#A0A0A0" stroke-width="1.2"/>
<line x1="543.70" y1="505.30" x2="543.70" y2="499.80" stroke="#A0A0A0" stroke-width="1.2"/>
<line x1="604.85" y1="505.30" x2="604.85" y2="499.80" stroke="#A0A0A0" stroke-width="1.2"/>
<text transform="translate(405.30,513.90) scale(1,1.08)" font-size="17" text-anchor="end" fill="#000">0.00</text>
<text transform="translate(405.30,482.86) scale(1,1.08)" font-size="17" text-anchor="end" fill="#000">0.50</text>
<text transform="translate(405.30,451.81) scale(1,1.08)" font-size="17" text-anchor="end" fill="#000">1.00</text>
<text transform="translate(405.30,420.77) scale(1,1.08)" font-size="17" text-anchor="end" fill="#000">1.50</text>
<text transform="translate(405.30,389.73) scale(1,1.08)" font-size="17" text-anchor="end" fill="#000">2.00</text>
<text transform="translate(405.30,358.69) scale(1,1.08)" font-size="17" text-anchor="end" fill="#000">2.50</text>
<text transform="translate(405.30,327.64) scale(1,1.08)" font-size="17" text-anchor="end" fill="#000">3.00</text>
<text transform="translate(405.30,296.60) scale(1,1.08)" font-size="17" text-anchor="end" fill="#000">3.50</text>
<text transform="translate(421.40,532.60) scale(1,1.08)" font-size="17" text-anchor="middle" fill="#000">0.00</text>
<text transform="translate(482.55,532.60) scale(1,1.08)" font-size="17" text-anchor="middle" fill="#000">5.00</text>
<text transform="translate(543.70,532.60) scale(1,1.08)" font-size="17" text-anchor="middle" fill="#000">10.00</text>
<text transform="translate(604.85,532.60) scale(1,1.08)" font-size="17" text-anchor="middle" fill="#000">15.00</text>
<text transform="translate(666.00,532.60) scale(1,1.08)" font-size="17" text-anchor="middle" fill="#000">20.00</text>
<path d="M421.40,505.30 L421.40,288.00 L666.00,288.00 L666.00,505.30 Z" fill="none" stroke="#000" stroke-width="2.9" stroke-linejoin="round"/>
<circle cx="423.70" cy="484.70" r="3.6" fill="#FF0000"/>
<circle cx="423.70" cy="489.60" r="3.6" fill="#FF0000"/>
<circle cx="487.50" cy="457.80" r="3.6" fill="#FF0000"/>
<circle cx="494.50" cy="442.30" r="3.6" fill="#FF0000"/>
<circle cx="499.30" cy="451.40" r="3.6" fill="#FF0000"/>
<circle cx="505.50" cy="448.50" r="3.6" fill="#FF0000"/>
<circle cx="507.20" cy="450.80" r="3.6" fill="#FF0000"/>
<circle cx="500.70" cy="460.50" r="3.6" fill="#FF0000"/>
<circle cx="501.50" cy="454.60" r="3.6" fill="#FF0000"/>
<circle cx="586.40" cy="401.70" r="3.6" fill="#FF0000"/>
<circle cx="593.40" cy="395.30" r="3.6" fill="#FF0000"/>
<circle cx="607.80" cy="388.20" r="3.6" fill="#FF0000"/>
<circle cx="612.50" cy="378.80" r="3.6" fill="#FF0000"/>
<circle cx="612.90" cy="308.50" r="3.6" fill="#FF0000"/>
<circle cx="639.30" cy="315.10" r="3.6" fill="#FF0000"/>
<circle cx="629.00" cy="325.60" r="3.6" fill="#FF0000"/>
<circle cx="636.10" cy="330.30" r="3.6" fill="#FF0000"/>
<circle cx="616.00" cy="332.60" r="3.6" fill="#FF0000"/>
<circle cx="637.50" cy="340.80" r="3.6" fill="#FF0000"/>
<circle cx="632.30" cy="345.10" r="3.6" fill="#FF0000"/>
<circle cx="642.80" cy="349.00" r="3.6" fill="#FF0000"/>
<polyline points="421.40,484.20 423.24,483.81 425.08,483.41 426.92,483.00 428.76,482.59 430.60,482.16 432.44,481.73 434.28,481.29 436.12,480.85 437.96,480.39 439.80,479.93 441.64,479.45 443.48,478.97 445.31,478.48 447.15,477.98 448.99,477.47 450.83,476.96 452.67,476.43 454.51,475.89 456.35,475.34 458.19,474.78 460.03,474.22 461.87,473.64 463.71,473.05 465.55,472.45 467.39,471.83 469.23,471.21 471.07,470.58 472.91,469.93 474.75,469.27 476.59,468.60 478.43,467.92 480.27,467.22 482.11,466.51 483.95,465.79 485.79,465.05 487.63,464.30 489.47,463.54 491.30,462.76 493.14,461.97 494.98,461.16 496.82,460.34 498.66,459.50 500.50,458.65 502.34,457.78 504.18,456.89 506.02,455.99 507.86,455.07 509.70,454.14 511.54,453.18 513.38,452.21 515.22,451.22 517.06,450.22 518.90,449.19 520.74,448.15 522.58,447.08 524.42,446.00 526.26,444.89 528.10,443.77 529.94,442.62 531.78,441.45 533.62,440.26 535.45,439.05 537.29,437.82 539.13,436.56 540.97,435.28 542.81,433.98 544.65,432.65 546.49,431.29 548.33,429.92 550.17,428.51 552.01,427.08 553.85,425.62 555.69,424.14 557.53,422.63 559.37,421.09 561.21,419.52 563.05,417.92 564.89,416.29 566.73,414.64 568.57,412.95 570.41,411.23 572.25,409.48 574.09,407.69 575.93,405.87 577.77,404.02 579.61,402.13 581.44,400.21 583.28,398.25 585.12,396.26 586.96,394.23 588.80,392.16 590.64,390.05 592.48,387.91 594.32,385.72 596.16,383.49 598.00,381.22 599.84,378.91 601.68,376.56 603.52,374.16 605.36,371.72 607.20,369.23 609.04,366.69 610.88,364.11 612.72,361.48 614.56,358.80 616.40,356.07 618.24,353.29 620.08,350.46 621.92,347.58 623.76,344.64 625.60,341.65 627.43,338.60 629.27,335.49 631.11,332.33 632.95,329.11 634.79,325.83 636.63,322.48 638.47,319.08 640.31,315.61 642.15,312.08" fill="none" stroke="#0070C0" stroke-width="2.7" stroke-linecap="round" stroke-linejoin="round"/>
<text x="534.50" y="361.00" font-size="14" font-weight="bold" text-anchor="middle">y = 0.3398e<tspan font-size="8.6" dy="-4.4">0.1227x</tspan></text>
<text x="534.50" y="376.80" font-size="14" text-anchor="middle" font-weight="bold" fill="#000">n=24</text>
<text x="534.50" y="392.90" font-size="14" font-weight="bold" text-anchor="middle">R<tspan font-size="6.8" dy="-4.6">2</tspan><tspan dy="4.6"> = 0.96</tspan></text>
<text x="534.50" y="408.70" font-size="14" font-weight="bold" text-anchor="middle"><tspan font-style="italic">P</tspan>&lt;0.01</text>
<text x="429.00" y="308.60" font-size="20" text-anchor="start" font-weight="bold" fill="#FF0000">E</text>
<text x="543.60" y="548.90" font-size="14" font-weight="bold" text-anchor="middle">IAA concentration(ng g<tspan font-size="8.68" dy="-5">-1</tspan><tspan dy="5">FW)</tspan></text>
<line x1="420.90" y1="776.06" x2="426.40" y2="776.06" stroke="#A0A0A0" stroke-width="1.2"/>
<line x1="420.90" y1="746.62" x2="426.40" y2="746.62" stroke="#A0A0A0" stroke-width="1.2"/>
<line x1="420.90" y1="717.19" x2="426.40" y2="717.19" stroke="#A0A0A0" stroke-width="1.2"/>
<line x1="420.90" y1="687.75" x2="426.40" y2="687.75" stroke="#A0A0A0" stroke-width="1.2"/>
<line x1="420.90" y1="658.31" x2="426.40" y2="658.31" stroke="#A0A0A0" stroke-width="1.2"/>
<line x1="420.90" y1="628.88" x2="426.40" y2="628.88" stroke="#A0A0A0" stroke-width="1.2"/>
<line x1="420.90" y1="599.44" x2="426.40" y2="599.44" stroke="#A0A0A0" stroke-width="1.2"/>
<line x1="543.15" y1="805.50" x2="543.15" y2="800.00" stroke="#A0A0A0" stroke-width="1.2"/>
<text transform="translate(404.80,814.10) scale(1,1.08)" font-size="17" text-anchor="end" fill="#000">0.00</text>
<text transform="translate(404.80,784.66) scale(1,1.08)" font-size="17" text-anchor="end" fill="#000">5.00</text>
<text transform="translate(404.80,755.23) scale(1,1.08)" font-size="17" text-anchor="end" fill="#000">10.00</text>
<text transform="translate(404.80,725.79) scale(1,1.08)" font-size="17" text-anchor="end" fill="#000">15.00</text>
<text transform="translate(404.80,696.35) scale(1,1.08)" font-size="17" text-anchor="end" fill="#000">20.00</text>
<text transform="translate(404.80,666.91) scale(1,1.08)" font-size="17" text-anchor="end" fill="#000">25.00</text>
<text transform="translate(404.80,637.48) scale(1,1.08)" font-size="17" text-anchor="end" fill="#000">30.00</text>
<text transform="translate(404.80,608.04) scale(1,1.08)" font-size="17" text-anchor="end" fill="#000">35.00</text>
<text transform="translate(404.80,578.60) scale(1,1.08)" font-size="17" text-anchor="end" fill="#000">40.00</text>
<text transform="translate(420.90,832.40) scale(1,1.08)" font-size="17" text-anchor="middle" fill="#000">0.00</text>
<text transform="translate(543.15,832.40) scale(1,1.08)" font-size="17" text-anchor="middle" fill="#000">10.00</text>
<text transform="translate(665.40,832.40) scale(1,1.08)" font-size="17" text-anchor="middle" fill="#000">20.00</text>
<path d="M420.90,805.50 L420.90,570.00 L665.40,570.00 L665.40,805.50 Z" fill="none" stroke="#000" stroke-width="2.9" stroke-linejoin="round"/>
<circle cx="423.40" cy="781.90" r="3.6" fill="#FF0000"/>
<circle cx="423.40" cy="786.10" r="3.6" fill="#FF0000"/>
<circle cx="499.40" cy="715.30" r="3.6" fill="#FF0000"/>
<circle cx="506.70" cy="719.10" r="3.6" fill="#FF0000"/>
<circle cx="505.40" cy="721.90" r="3.6" fill="#FF0000"/>
<circle cx="505.80" cy="725.40" r="3.6" fill="#FF0000"/>
<circle cx="501.20" cy="728.50" r="3.6" fill="#FF0000"/>
<circle cx="487.20" cy="731.40" r="3.6" fill="#FF0000"/>
<circle cx="494.50" cy="733.30" r="3.6" fill="#FF0000"/>
<circle cx="500.40" cy="739.60" r="3.6" fill="#FF0000"/>
<circle cx="586.20" cy="663.50" r="3.6" fill="#FF0000"/>
<circle cx="593.10" cy="682.00" r="3.6" fill="#FF0000"/>
<circle cx="607.90" cy="662.70" r="3.6" fill="#FF0000"/>
<circle cx="612.40" cy="653.60" r="3.6" fill="#FF0000"/>
<circle cx="636.30" cy="598.60" r="3.6" fill="#FF0000"/>
<circle cx="616.20" cy="610.30" r="3.6" fill="#FF0000"/>
<circle cx="629.10" cy="609.50" r="3.6" fill="#FF0000"/>
<circle cx="632.30" cy="615.30" r="3.6" fill="#FF0000"/>
<circle cx="637.80" cy="613.80" r="3.6" fill="#FF0000"/>
<circle cx="643.10" cy="621.40" r="3.6" fill="#FF0000"/>
<circle cx="612.70" cy="633.30" r="3.6" fill="#FF0000"/>
<circle cx="639.30" cy="636.30" r="3.6" fill="#FF0000"/>
<polyline points="420.90,776.91 422.74,776.42 424.58,775.92 426.42,775.41 428.26,774.89 430.09,774.36 431.93,773.82 433.77,773.28 435.61,772.72 437.45,772.16 439.29,771.59 441.13,771.00 442.97,770.41 444.80,769.80 446.64,769.19 448.48,768.56 450.32,767.93 452.16,767.28 454.00,766.62 455.84,765.95 457.68,765.27 459.52,764.58 461.35,763.88 463.19,763.16 465.03,762.43 466.87,761.69 468.71,760.93 470.55,760.17 472.39,759.39 474.23,758.59 476.07,757.78 477.90,756.96 479.74,756.13 481.58,755.28 483.42,754.41 485.26,753.53 487.10,752.64 488.94,751.73 490.78,750.80 492.61,749.86 494.45,748.90 496.29,747.93 498.13,746.93 499.97,745.93 501.81,744.90 503.65,743.86 505.49,742.80 507.33,741.72 509.16,740.62 511.00,739.50 512.84,738.36 514.68,737.21 516.52,736.03 518.36,734.84 520.20,733.62 522.04,732.38 523.88,731.12 525.71,729.84 527.55,728.54 529.39,727.21 531.23,725.87 533.07,724.49 534.91,723.10 536.75,721.68 538.59,720.24 540.42,718.77 542.26,717.28 544.10,715.76 545.94,714.21 547.78,712.64 549.62,711.04 551.46,709.41 553.30,707.76 555.14,706.08 556.97,704.36 558.81,702.62 560.65,700.85 562.49,699.05 564.33,697.22 566.17,695.35 568.01,693.46 569.85,691.53 571.69,689.56 573.52,687.57 575.36,685.54 577.20,683.47 579.04,681.37 580.88,679.23 582.72,677.06 584.56,674.85 586.40,672.60 588.23,670.31 590.07,667.98 591.91,665.61 593.75,663.20 595.59,660.75 597.43,658.26 599.27,655.73 601.11,653.15 602.95,650.52 604.78,647.86 606.62,645.14 608.46,642.38 610.30,639.57 612.14,636.71 613.98,633.81 615.82,630.85 617.66,627.84 619.50,624.79 621.33,621.67 623.17,618.51 625.01,615.29 626.85,612.01 628.69,608.68 630.53,605.29 632.37,601.85 634.21,598.34 636.04,594.77 637.88,591.14 639.72,587.45 641.56,583.70" fill="none" stroke="#0070C0" stroke-width="2.7" stroke-linecap="round" stroke-linejoin="round"/>
<text x="519.00" y="655.40" font-size="14" font-weight="bold" text-anchor="middle">y = 4.8563e<tspan font-size="8.6" dy="-4.4">0.1135x</tspan></text>
<text x="519.00" y="671.50" font-size="14" text-anchor="middle" font-weight="bold" fill="#000">n=24</text>
<text x="519.00" y="687.80" font-size="14" font-weight="bold" text-anchor="middle">R<tspan font-size="6.8" dy="-4.6">2</tspan><tspan dy="4.6"> = 0.90</tspan></text>
<text x="519.00" y="703.00" font-size="14" font-weight="bold" text-anchor="middle"><tspan font-style="italic">P</tspan>&lt;0.01</text>
<text x="430.20" y="593.00" font-size="20" text-anchor="start" font-weight="bold" fill="#FF0000">F</text>
<text x="543.20" y="846.80" font-size="14" font-weight="bold" text-anchor="middle">IAA concentration(ng g<tspan font-size="8.68" dy="-5">-1</tspan><tspan dy="5">FW)</tspan></text>
<text x="0" y="0" font-size="14.0" font-weight="bold" text-anchor="middle" transform="translate(11.80,113.80) rotate(-90)">Citrate exudation(μmol g<tspan font-size="8.68" dy="-4.62">-1</tspan><tspan dy="4.62">FW h</tspan><tspan font-size="8.68" dy="-4.62">-1</tspan><tspan dy="4.62">)</tspan></text>
<text x="0" y="0" font-size="14.0" font-weight="bold" text-anchor="middle" transform="translate(10.60,393.70) rotate(-90)">Malate exudation(μmol g<tspan font-size="8.68" dy="-4.62">-1</tspan><tspan dy="4.62">FW h</tspan><tspan font-size="8.68" dy="-4.62">-1</tspan><tspan dy="4.62">)</tspan></text>
<text x="0" y="0" font-size="14.0" font-weight="bold" text-anchor="middle" transform="translate(9.90,685.80) rotate(-90)">Phosphatase activity(μmol g<tspan font-size="8.68" dy="-4.62">-1</tspan><tspan dy="4.62">FW</tspan></text>
<text x="0" y="0" font-size="14.0" font-weight="bold" text-anchor="middle" transform="translate(25.80,685.70) rotate(-90)">h<tspan font-size="8.68" dy="-4.62">-1</tspan><tspan dy="4.62">)</tspan></text>
<text x="0" y="0" font-size="14.0" font-weight="bold" text-anchor="middle" transform="translate(369.50,122.30) rotate(-90)">Citrate exudation(μmol g<tspan font-size="8.68" dy="-4.62">-1</tspan><tspan dy="4.62">FW h</tspan><tspan font-size="8.68" dy="-4.62">-1</tspan><tspan dy="4.62">)</tspan></text>
<text x="0" y="0" font-size="14.0" font-weight="bold" text-anchor="middle" transform="translate(366.20,407.60) rotate(-90)">Malate exudation(μmol g<tspan font-size="8.68" dy="-4.62">-1</tspan><tspan dy="4.62">FW h</tspan><tspan font-size="8.68" dy="-4.62">-1</tspan><tspan dy="4.62">)</tspan></text>
<text x="0" y="0" font-size="14.0" font-weight="bold" text-anchor="middle" transform="translate(356.00,682.65) rotate(-90)">Phosphatase activity(μmol g<tspan font-size="8.68" dy="-4.62">-1</tspan><tspan dy="4.62">FW</tspan></text>
<text x="0" y="0" font-size="14.0" font-weight="bold" text-anchor="middle" transform="translate(371.60,682.70) rotate(-90)">h<tspan font-size="8.68" dy="-4.62">-1</tspan><tspan dy="4.62">)</tspan></text>
</svg></body></html>
